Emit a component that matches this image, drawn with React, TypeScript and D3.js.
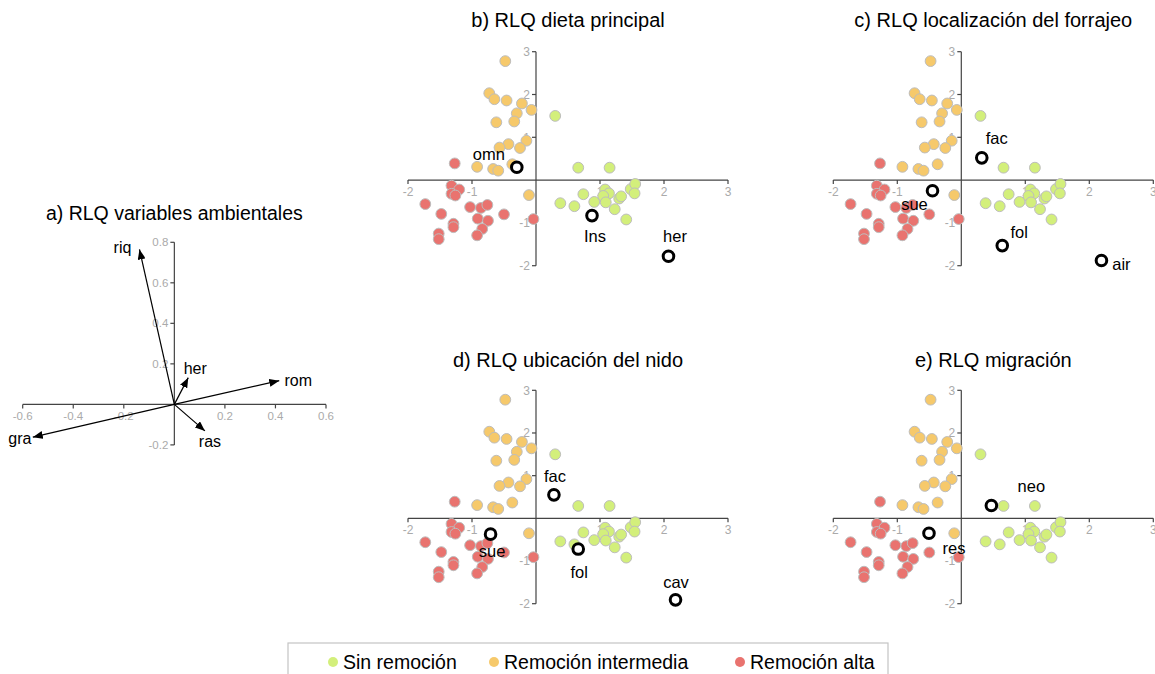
import React from 'react';
import * as d3 from 'd3';

// site scores, identical in all four RLQ panels
const sinRemocion: [number, number][] = [
  [0.30, 1.50], [0.66, 0.29], [1.15, 0.29], [0.74, -0.33], [0.38, -0.54],
  [0.60, -0.61], [0.91, -0.51], [1.08, -0.22], [1.14, -0.31], [1.05, -0.37],
  [1.09, -0.52], [1.23, -0.68], [1.30, -0.43], [1.33, -0.38], [1.48, -0.21],
  [1.55, -0.09], [1.54, -0.31], [1.41, -0.92],
];
const remocionIntermedia: [number, number][] = [
  [-0.48, 2.78], [-0.73, 2.03], [-0.65, 1.89], [-0.46, 1.86], [-0.22, 1.79],
  [-0.07, 1.64], [-0.30, 1.56], [-0.34, 1.37], [-0.62, 1.35], [-0.15, 0.92],
  [-0.43, 0.84], [-0.57, 0.76], [-0.25, 0.75], [-0.92, 0.31], [-0.67, 0.26],
  [-0.59, 0.22], [-0.37, 0.37], [-0.11, -0.35],
];
const remocionAlta: [number, number][] = [
  [-1.27, 0.39], [-1.32, -0.13], [-1.20, -0.22], [-1.32, -0.32], [-1.26, -0.36],
  [-1.73, -0.56], [-1.48, -0.79], [-1.03, -0.63], [-0.86, -0.65], [-0.76, -0.58],
  [-0.50, -0.80], [-0.91, -0.90], [-0.75, -0.95], [-1.29, -1.02], [-1.29, -1.10],
  [-0.84, -1.14], [-0.92, -1.29], [-1.52, -1.25], [-1.52, -1.38], [-0.04, -0.91],
];

// trait scores per panel
const dietaPrincipal = [
  { name: 'omn', x: -0.30, y: 0.30 },
  { name: 'Ins', x: 0.875, y: -0.83 },
  { name: 'her', x: 2.07, y: -1.78 },
];
const localizacionForrajeo = [
  { name: 'fac', x: 0.32, y: 0.52 },
  { name: 'sue', x: -0.45, y: -0.25 },
  { name: 'fol', x: 0.64, y: -1.53 },
  { name: 'air', x: 2.19, y: -1.88 },
];
const ubicacionNido = [
  { name: 'fac', x: 0.28, y: 0.55 },
  { name: 'sue', x: -0.71, y: -0.37 },
  { name: 'fol', x: 0.66, y: -0.72 },
  { name: 'cav', x: 2.18, y: -1.91 },
];
const migracion = [
  { name: 'neo', x: 0.47, y: 0.30 },
  { name: 'res', x: -0.505, y: -0.35 },
];

// environmental variable arrows (panel a)
const ambientales = [
  { name: 'riq', x: -0.138, y: 0.765 },
  { name: 'her', x: 0.055, y: 0.132 },
  { name: 'rom', x: 0.415, y: 0.117 },
  { name: 'ras', x: 0.121, y: -0.131 },
  { name: 'gra', x: -0.56, y: -0.162 },
];

const legendLabels = ['Sin remoción', 'Remoción intermedia', 'Remoción alta'];
const groupColors = ['#d3ef7b', '#f6c96b', '#e9736f'];

// label nudges in px (layout only)
const nudge: Record<string, [number, number]> = {
  'b-omn': [-28, -7], 'b-Ins': [3, 26], 'b-her': [6.5, -14.5],
  'c-fac': [15, -14], 'c-sue': [-18, 19], 'c-fol': [17, -8], 'c-air': [20, 9.5],
  'd-fac': [1, -13], 'd-sue': [1.5, 22.5], 'd-fol': [1, 29], 'd-cav': [0.5, -12],
  'e-neo': [40, -14], 'e-res': [25, 21],
  'a-riq': [-17, 4], 'a-her': [7, -3.5], 'a-rom': [19, 5], 'a-ras': [5, 16], 'a-gra': [-13, 7],
};

const FONT = '"Liberation Sans", Arial, Helvetica, sans-serif';
const axisColor = '#444';
const tickColor = '#aaa';

type Scale = d3.ScaleLinear<number, number>;

function Axes({ x, y, fmt, fs }: { x: Scale; y: Scale; fmt: (v: number) => string; fs: number }) {
  const [x0, x1] = x.domain();
  const [y0, y1] = y.domain();
  const xt = d3.range(x0, x1 + 1e-9, x0 < -1 ? 1 : 0.2).filter(v => Math.abs(v) > 1e-9);
  const yt = d3.range(y0, y1 + 1e-9, y0 < -1 ? 1 : 0.2).filter(v => Math.abs(v) > 1e-9);
  const ox = x(0), oy = y(0);
  return (
    <g fontFamily={FONT}>
      <line x1={x(x0)} x2={x(x1)} y1={oy} y2={oy} stroke={axisColor} strokeWidth={1.2} />
      <line x1={ox} x2={ox} y1={y(y0)} y2={y(y1)} stroke={axisColor} strokeWidth={1.2} />
      {xt.map(v => (
        <g key={'x' + v}>
          <line x1={x(v)} x2={x(v)} y1={oy} y2={oy + 4} stroke={axisColor} strokeWidth={1.2} />
          <text x={x(v)} y={oy + 16} textAnchor="middle" fontSize={fs} fill={tickColor}>{fmt(v)}</text>
        </g>
      ))}
      {yt.map(v => (
        <g key={'y' + v}>
          <line x1={ox - 4} x2={ox} y1={y(v)} y2={y(v)} stroke={axisColor} strokeWidth={1.2} />
          <text x={ox - 6} y={y(v)} dy="0.35em" textAnchor="end" fontSize={fs} fill={tickColor}>{fmt(v)}</text>
        </g>
      ))}
    </g>
  );
}

const panels = [
  { key: 'b', title: 'b) RLQ dieta principal', xr: [408, 728], yr: [265.7, 51.7], ty: 27, traits: dietaPrincipal },
  { key: 'c', title: 'c) RLQ localización del forrajeo', xr: [833.3, 1153.3], yr: [265.7, 51.7], ty: 27, traits: localizacionForrajeo },
  { key: 'd', title: 'd) RLQ ubicación del nido', xr: [408, 728], yr: [603.7, 390.3], ty: 367, traits: ubicacionNido },
  { key: 'e', title: 'e) RLQ migración', xr: [833.3, 1153.3], yr: [603.7, 390.3], ty: 367, traits: migracion },
];

function RlqPanel({ p }: { p: typeof panels[number] }) {
  const x = d3.scaleLinear().domain([-2, 3]).range(p.xr);
  const y = d3.scaleLinear().domain([-2, 3]).range(p.yr);
  const groups = [remocionAlta, remocionIntermedia, sinRemocion];
  const cols = [groupColors[2], groupColors[1], groupColors[0]];
  return (
    <g>
      <text x={(p.xr[0] + p.xr[1]) / 2} y={p.ty} textAnchor="middle" fontFamily={FONT} fontSize={20}>{p.title}</text>
      <Axes x={x} y={y} fmt={v => String(Math.round(v))} fs={12} />
      {groups.map((g, gi) => g.map((d, i) => (
        <circle key={gi + '-' + i} cx={x(d[0])} cy={y(d[1])} r={5.4} fill={cols[gi]} stroke="#bdbdbd" strokeWidth={1} />
      )))}
      {p.traits.map(t => {
        const [dx, dy] = nudge[p.key + '-' + t.name];
        return (
          <g key={t.name}>
            <circle cx={x(t.x)} cy={y(t.y)} r={5.3} fill="white" stroke="black" strokeWidth={3} />
            <text x={x(t.x) + dx} y={y(t.y) + dy} textAnchor="middle" fontFamily={FONT} fontSize={16.5}>{t.name}</text>
          </g>
        );
      })}
    </g>
  );
}

function EnvPanel() {
  const x = d3.scaleLinear().domain([-0.6, 0.6]).range([22.7, 326]);
  const y = d3.scaleLinear().domain([-0.2, 0.8]).range([444.9, 242.3]);
  return (
    <g>
      <defs>
        <marker id="arrow" viewBox="0 0 10 8" refX={10} refY={4} markerWidth={10} markerHeight={8}
          markerUnits="userSpaceOnUse" orient="auto">
          <path d="M0,0 L10,4 L0,8 z" fill="black" />
        </marker>
      </defs>
      <text x={x(0)} y={220} textAnchor="middle" fontFamily={FONT} fontSize={19.5}>a) RLQ variables ambientales</text>
      <Axes x={x} y={y} fmt={v => v.toFixed(1)} fs={11.5} />
      {ambientales.map(a => {
        const [dx, dy] = nudge['a-' + a.name];
        return (
          <g key={a.name}>
            <line x1={x(0)} y1={y(0)} x2={x(a.x)} y2={y(a.y)} stroke="black" strokeWidth={1.2} markerEnd="url(#arrow)" />
            <text x={x(a.x) + dx} y={y(a.y) + dy} textAnchor="middle" fontFamily={FONT} fontSize={16}>{a.name}</text>
          </g>
        );
      })}
    </g>
  );
}

function Legend() {
  const dotX = [333, 494, 740];
  return (
    <g fontFamily={FONT}>
      <rect x={288} y={643} width={600} height={45} fill="white" stroke="#c4c4c4" strokeWidth={1.2} />
      {legendLabels.map((l, i) => (
        <g key={l}>
          <circle cx={dotX[i]} cy={662} r={5} fill={groupColors[i]} />
          <text x={dotX[i] + 10} y={669} fontSize={19.5}>{l}</text>
        </g>
      ))}
    </g>
  );
}

export default function App() {
  return (
    <div style={{ position: 'absolute', left: 0, top: 0 }}>
      <svg width={1155} height={674} style={{ display: 'block', background: 'white' }}>
        <EnvPanel />
        {panels.map(p => <RlqPanel key={p.key} p={p} />)}
        <Legend />
      </svg>
    </div>
  );
}
